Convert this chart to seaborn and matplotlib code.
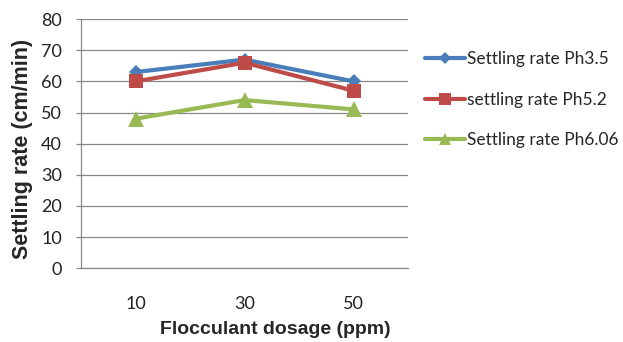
import matplotlib
matplotlib.use("Agg")
import matplotlib.pyplot as plt
import seaborn as sns
import pandas as pd

dosage = ["10", "30", "50"]
ph35 = [63, 67, 60]
ph52 = [60, 66, 57]
ph606 = [48, 54, 51]
series_names = ["Settling rate Ph3.5", "settling rate Ph5.2", "Settling rate Ph6.06"]
yticks = [0, 10, 20, 30, 40, 50, 60, 70, 80]

rows = []
for name, vals in zip(series_names, [ph35, ph52, ph606]):
    for d, v in zip(dosage, vals):
        rows.append({"dosage": d, "rate": v, "series": name})
df = pd.DataFrame(rows)

sns.set_style("white")
plt.rcParams["font.family"] = ["Lato", "DejaVu Sans"]

fig = plt.figure(figsize=(6.23, 3.42), dpi=100)
ax = fig.add_axes([0.130, 0.216, 0.525, 0.728])

palette = {series_names[0]: "#4A7EBB", series_names[1]: "#BE4B48", series_names[2]: "#98B954"}
markers = {series_names[0]: "D", series_names[1]: "s", series_names[2]: "^"}
msizes = [7.5, 10.5, 11]

sns.lineplot(data=df, x="dosage", y="rate", hue="series", style="series",
             palette=palette, markers=markers, dashes=False, linewidth=3,
             markeredgewidth=0, ax=ax, sort=False)
for line, ms in zip(ax.get_lines(), msizes):
    line.set_markersize(ms)

ax.set_ylim(0, 80)
ax.set_yticks(yticks)
ax.set_xlim(-0.5, 2.5)
ax.set_xticks([0, 1, 2])
ax.set_xticklabels(dosage)
ax.set_xticks([-0.5, 0.5, 1.5, 2.5], minor=True)
ax.yaxis.grid(True, color="#888888", linewidth=0.9)
ax.set_axisbelow(True)
for s in ["top", "right"]:
    ax.spines[s].set_visible(False)
ax.spines["bottom"].set_color("#888888")
ax.spines["left"].set_color("#888888")
ax.spines["bottom"].set_linewidth(0.9)
ax.spines["left"].set_linewidth(0.9)
ax.tick_params(axis="x", which="major", length=0, labelsize=13, pad=20, colors="#222222")
ax.tick_params(axis="x", which="minor", length=6, color="#888888", width=0.9, direction="out")
ax.tick_params(axis="y", length=3.6, color="#888888", width=0.9, labelsize=13, pad=10, colors="#222222", left=True)

ax.set_xlabel("Flocculant dosage (ppm)", fontsize=14, fontweight="bold",
              family=["Liberation Sans", "DejaVu Sans"])
ax.xaxis.set_label_coords(0.593, -0.213)
ax.set_ylabel("Settling rate (cm/min)", fontsize=15.5, fontweight="bold",
              family=["Liberation Sans", "DejaVu Sans"])
ax.yaxis.set_label_coords(-0.147, 0.48)

leg = ax.legend(loc="upper left", bbox_to_anchor=(425 / 623, 1 - 51 / 342),
                bbox_transform=fig.transFigure, frameon=False, borderaxespad=0, borderpad=0,
                fontsize=12.5, handlelength=2.3, labelspacing=1.42, handletextpad=0.12)
for line, ms in zip(leg.get_lines(), msizes):
    line.set_linewidth(3)
    line.set_markersize(ms * 0.85)

fig.savefig("out.png", dpi=100)
